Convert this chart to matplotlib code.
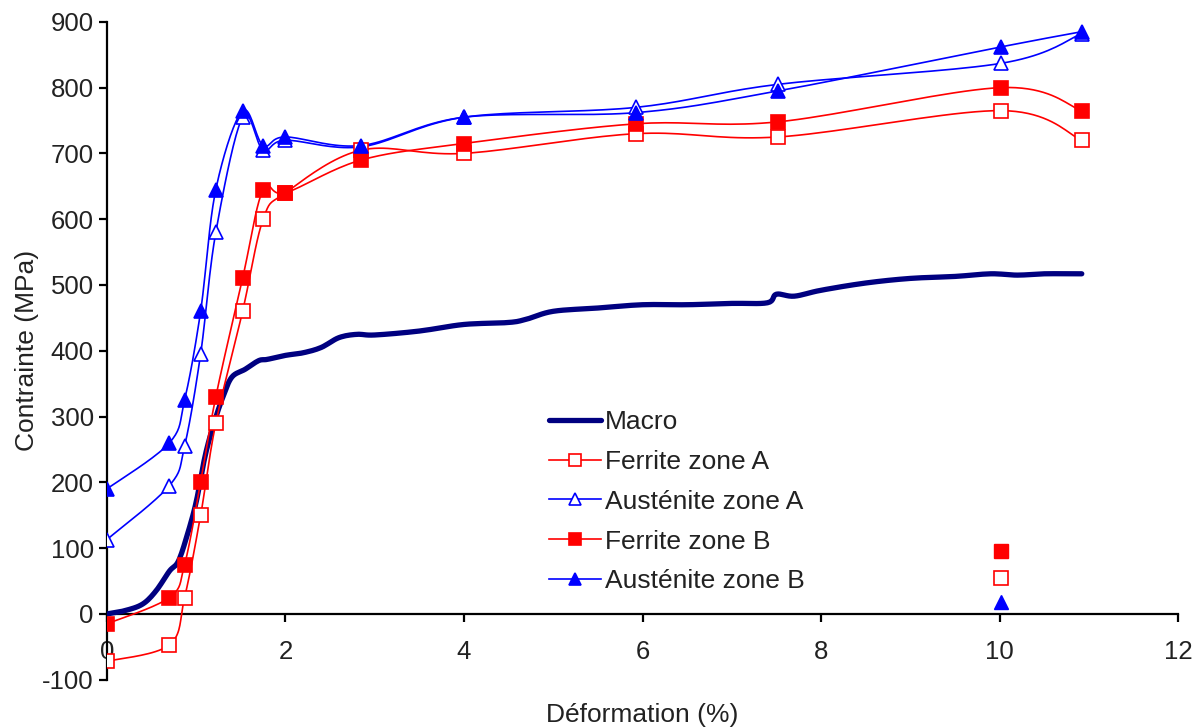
import numpy as np
import matplotlib
matplotlib.use("Agg")
import matplotlib.pyplot as plt

plt.rcParams['font.family'] = ['Liberation Sans', 'DejaVu Sans']
plt.rcParams['axes.unicode_minus'] = False

# Points de mesure (déformation %, contrainte MPa)
x_pts = [0, 0.7, 0.87, 1.05, 1.22, 1.52, 1.75, 2.0, 2.85, 4.0, 5.93, 7.52, 10.02, 10.92]
ferrite_a = [-72, -47, 25, 150, 290, 460, 600, 640, 705, 700, 730, 725, 765, 720]
austenite_a = [113, 195, 255, 395, 580, 755, 705, 720, 710, 755, 770, 805, 837, 882]
ferrite_b = [-15, 25, 75, 200, 330, 510, 645, 640, 690, 715, 745, 748, 800, 765]
austenite_b = [190, 260, 325, 460, 645, 765, 712, 725, 712, 755, 762, 795, 862, 885]

# Courbe macro
macro_x = [0, 0.2, 0.4, 0.55, 0.7, 0.8, 0.9, 1.0, 1.1, 1.2, 1.3, 1.4, 1.55, 1.7, 1.8,
           2.0, 2.2, 2.4, 2.6, 2.8, 3.0, 3.5, 4.0, 4.5, 4.7, 5.0, 5.5, 6.0, 6.5, 7.0,
           7.4, 7.5, 7.7, 8.0, 8.5, 9.0, 9.5, 9.9, 10.2, 10.5, 10.92]
macro_y = [0, 5, 15, 35, 65, 80, 120, 170, 240, 290, 330, 360, 372, 385, 387,
           393, 397, 405, 420, 425, 424, 430, 440, 443, 448, 460, 465, 470, 470, 472,
           473, 486, 483, 492, 503, 510, 513, 517, 515, 517, 517]

# points isolés près de x=10
stray_x = [10.02, 10.02, 10.02]
stray_y = [95, 55, 18]


def smooth(xs, ys, n=20):
    # lissage Catmull-Rom (comme les courbes lissées d'Excel)
    p = np.column_stack([xs, ys]).astype(float)
    p = np.vstack([p[0], p, p[-1]])
    out = []
    t = np.linspace(0, 1, n, endpoint=False)
    for i in range(1, len(p) - 2):
        p0, p1, p2, p3 = p[i - 1], p[i], p[i + 1], p[i + 2]
        tt = t[:, None]
        seg = 0.5 * ((2 * p1) + (-p0 + p2) * tt + (2 * p0 - 5 * p1 + 4 * p2 - p3) * tt ** 2
                     + (-p0 + 3 * p1 - 3 * p2 + p3) * tt ** 3)
        out.append(seg)
    out.append(p[-2][None, :])
    out = np.vstack(out)
    return out[:, 0], out[:, 1]


fig = plt.figure(figsize=(12.01, 7.27), dpi=100)
ax = fig.add_axes([0.089, 0.065, 0.892, 0.905])

red = '#ff0000'
blue = '#0000ff'
navy = '#000080'
txt = '#222222'
fs = 18.5
fs_lab = 19

mx, my = smooth(macro_x, macro_y, 8)
ax.plot(mx, my, color=navy, lw=3.8, solid_capstyle='round', label='Macro', zorder=3)

series = [
    (ferrite_a, red, 's', 'none', 'Ferrite zone A'),
    (austenite_a, blue, '^', 'none', 'Austénite zone A'),
    (ferrite_b, red, 's', red, 'Ferrite zone B'),
    (austenite_b, blue, '^', blue, 'Austénite zone B'),
]
handles = []
for ys, c, m, fc, lab in series:
    sx, sy = smooth(x_pts, ys)
    ax.plot(sx, sy, color=c, lw=1.2, zorder=4)
    ax.plot(x_pts, ys, ls='none', marker=m, ms=9.5, mfc=fc if fc != 'none' else 'white',
            mec=c, mew=1.2, zorder=5)
    h, = ax.plot([], [], color=c, lw=1.2, marker=m, ms=8, mfc=fc if fc != 'none' else 'white',
                 mec=c, mew=1.2, label=lab)
    handles.append(h)

ax.plot(stray_x[0], stray_y[0], ls='none', marker='s', ms=9.5, mfc=red, mec=red, zorder=5)
ax.plot(stray_x[1], stray_y[1], ls='none', marker='s', ms=9.5, mfc='white', mec=red, mew=1.2, zorder=5)
ax.plot(stray_x[2], stray_y[2], ls='none', marker='^', ms=9.5, mfc=blue, mec=blue, zorder=5)

ax.set_xlim(0, 12)
ax.set_ylim(-100, 900)
ax.set_xticks(range(0, 13, 2))
ax.set_yticks(range(-100, 901, 100))
ax.spines['top'].set_visible(False)
ax.spines['right'].set_visible(False)
ax.spines['bottom'].set_position(('data', 0))
ax.spines['left'].set_linewidth(1.6)
ax.spines['bottom'].set_linewidth(1.6)
ax.tick_params(axis='both', direction='out', length=6, width=1.6, labelsize=fs,
               labelcolor=txt)
ax.tick_params(axis='x', pad=13)
ax.set_xlabel('Déformation (%)', fontsize=fs_lab, color=txt)
ax.set_ylabel('Contrainte (MPa)', fontsize=fs_lab, color=txt, labelpad=2)
ax.xaxis.set_label_coords(0.5, -0.035)

h0 = ax.get_lines()[0]
leg = ax.legend([h0] + handles, ['Macro'] + [s[4] for s in series],
                loc='upper left', bbox_to_anchor=(0.4, 0.43), frameon=False,
                fontsize=fs_lab, handlelength=2.0, handletextpad=0.15, labelspacing=0.6,
                borderpad=0)
for t in leg.get_texts():
    t.set_color(txt)

fig.savefig('out.png', dpi=100)
